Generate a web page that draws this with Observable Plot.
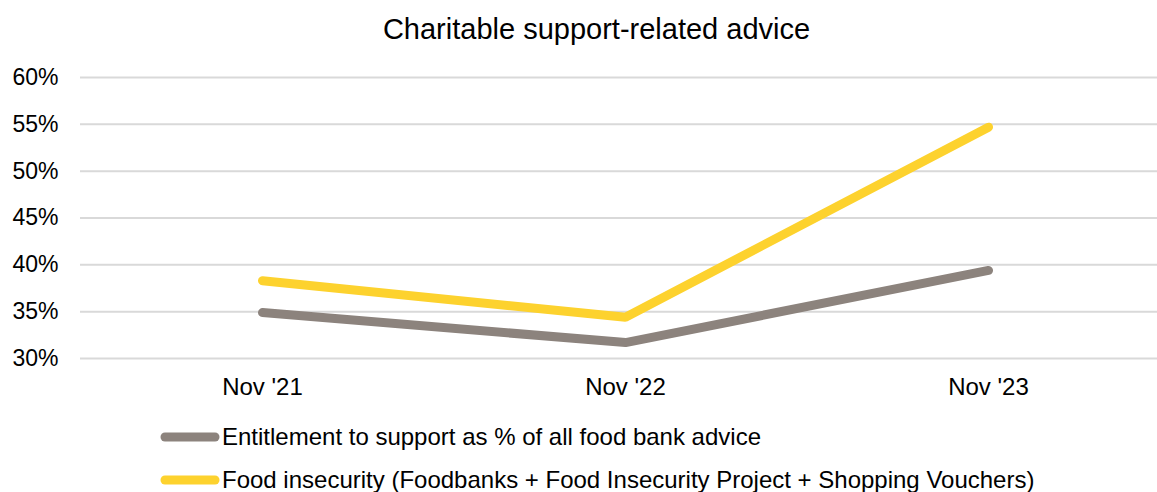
<!DOCTYPE html>
<html>
<head>
<meta charset="utf-8">
<script src="https://cdn.jsdelivr.net/npm/d3@7"></script>
<script src="https://cdn.jsdelivr.net/npm/@observablehq/plot@0.6"></script>
<style>
  html, body { margin: 0; padding: 0; background: #fff; overflow: hidden; }
  body { width: 1157px; height: 492px; font-family: "Liberation Sans", Arial, sans-serif; color: #000; }
  #title { height: 55px; line-height: 58px; font-size: 29px; text-align: center; padding-left: 36px; box-sizing: border-box; white-space: nowrap; }
  #chart svg { display: block; overflow: visible; }
  #legend { padding-top: 10px; padding-left: 160px; }
  .row { height: 43px; display: flex; align-items: center; font-size: 24px; white-space: nowrap; }
  .row svg { display: block; margin-right: 2px; }
</style>
</head>
<body>
<div id="title">Charitable support-related advice</div>
<div id="chart"></div>
<div id="legend"></div>
<script>
const months = ["Nov '21", "Nov '22", "Nov '23"];
const seriesNames = [
  "Entitlement to support as % of all food bank advice",
  "Food insecurity (Foodbanks + Food Insecurity Project + Shopping Vouchers)"
];
const entitlement = [34.9, 31.7, 39.4];
const foodInsecurity = [38.3, 34.4, 54.7];
const yTicks = [30, 35, 40, 45, 50, 55, 60];
const colors = ["#8c837d", "#fdd22e"];

const data = [];
months.forEach((m, i) => data.push({month: m, value: entitlement[i], series: seriesNames[0]}));
months.forEach((m, i) => data.push({month: m, value: foodInsecurity[i], series: seriesNames[1]}));

const chart = Plot.plot({
  width: 1157,
  height: 350,
  marginLeft: 80,
  marginRight: -12,
  marginTop: 22,
  marginBottom: 47,
  style: {fontFamily: "'Liberation Sans', Arial, sans-serif", fontSize: "23px", color: "#000", background: "transparent"},
  x: {type: "point", domain: months, padding: 0.5},
  y: {domain: [30, 60]},
  color: {domain: seriesNames, range: colors},
  marks: [
    Plot.ruleY(yTicks, {stroke: "#d9d9d9", strokeWidth: 2}),
    Plot.axisY({ticks: yTicks, tickSize: 0, tickPadding: 22, tickFormat: d => d + "%", label: null, fontSize: 23}),
    Plot.axisX({tickSize: 0, tickPadding: 19, label: null, fontSize: 24}),
    Plot.line(data, {x: "month", y: "value", z: "series", stroke: "series", strokeWidth: 9, strokeLinecap: "round", strokeLinejoin: "miter"})
  ]
});
document.getElementById("chart").appendChild(chart);

const legend = document.getElementById("legend");
seriesNames.forEach((name, i) => {
  const row = document.createElement("div");
  row.className = "row";
  row.innerHTML = `<svg width="60" height="12"><line x1="5" y1="6" x2="55" y2="6" stroke="${colors[i]}" stroke-width="9" stroke-linecap="round"/></svg><span>${name}</span>`;
  legend.appendChild(row);
});
</script>
</body>
</html>
